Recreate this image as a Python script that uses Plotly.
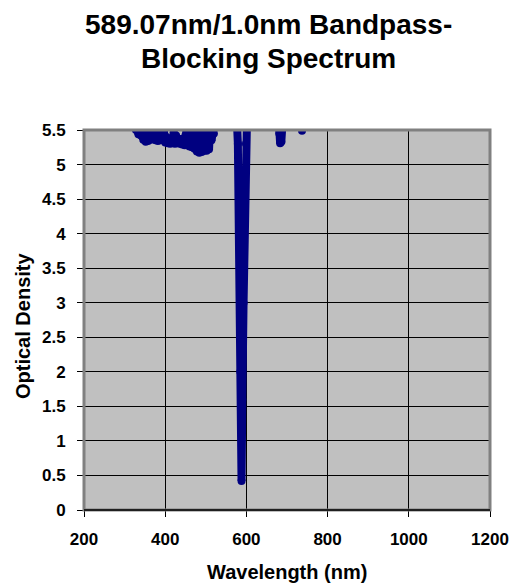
import plotly.graph_objects as go

# Wavelength (nm) and optical density
wavelength = [300, 322,
              325, 328, 331, 334, 337, 340, 343, 346, 349, 352, 355, 358, 361, 364, 367, 370,
              373, 376, 379, 382, 385, 388, 391, 394, 397, 400, 403, 406, 409, 412, 415, 418,
              421, 424, 427, 430, 433, 436, 439, 442, 445, 448, 451, 454, 457, 460, 463, 466,
              469, 472, 475, 478, 481, 484, 487, 490, 493, 496, 499, 502, 505, 508, 511, 514,
              517, 520, 523, 526, 530,
              550, 570, 576, 579, 582, 585, 588, 590, 593, 596, 599, 602, 610,
              650, 678, 681, 683, 686, 689, 692, 700,
              730, 734, 737, 740, 745,
              800, 900, 1000, 1100, 1200]
optical_density = [6.0, 5.8,
                   5.62, 5.50, 5.58, 5.44, 5.60, 5.42, 5.55, 5.36, 5.58, 5.33, 5.52, 5.34, 5.60, 5.36, 5.55, 5.37,
                   5.58, 5.35, 5.56, 5.34, 5.52, 5.35, 5.57, 5.36, 5.48, 5.32, 5.40, 5.31, 5.36, 5.30, 5.38, 5.31,
                   5.47, 5.30, 5.42, 5.31, 5.36, 5.30, 5.37, 5.29, 5.38, 5.28, 5.45, 5.28, 5.56, 5.26, 5.58, 5.25,
                   5.60, 5.23, 5.55, 5.19, 5.58, 5.17, 5.52, 5.18, 5.60, 5.20, 5.55, 5.20, 5.58, 5.22, 5.60, 5.35,
                   5.62, 5.45, 5.65, 5.60, 5.70,
                   6.0, 6.0, 5.7, 5.3, 3.8, 2.0, 0.42, 1.6, 3.0, 4.3, 5.3, 5.8, 6.0,
                   6.0, 5.8, 5.45, 5.31, 5.33, 5.6, 5.9, 6.0,
                   5.9, 5.7, 5.49, 5.7, 5.9,
                   6.0, 6.0, 6.0, 6.0, 6.0]

x_ticks = [200, 400, 600, 800, 1000, 1200]
y_ticks = [0, 0.5, 1, 1.5, 2, 2.5, 3, 3.5, 4, 4.5, 5, 5.5]
y_tick_text = ["0", "0.5", "1", "1.5", "2", "2.5", "3", "3.5", "4", "4.5", "5", "5.5"]

FONT = "Liberation Sans, Arial, sans-serif"
NAVY = "#000080"

fig = go.Figure()
fig.add_trace(go.Scatter(
    x=wavelength, y=optical_density, mode="lines+markers",
    line=dict(color=NAVY, width=8),
    marker=dict(color=NAVY, size=8, line=dict(width=0)),
    cliponaxis=True,
    showlegend=False, hoverinfo="skip",
))

fig.update_layout(
    template="none",
    width=514, height=586,
    margin=dict(l=84, r=24, t=130, b=76, autoexpand=False),
    paper_bgcolor="white",
    plot_bgcolor="#C0C0C0",
    font=dict(family=FONT, color="black"),
    showlegend=False,
    xaxis=dict(
        range=[200, 1200], tickvals=x_ticks, ticktext=[str(v) for v in x_ticks],
        automargin=False,
        showgrid=True, gridcolor="black", gridwidth=1,
        zeroline=False, showline=True, linecolor="black", linewidth=1,
        ticks="outside", ticklen=6, tickcolor="black", tickwidth=1,
        tickfont=dict(family=FONT, size=17, weight="bold"),
        ticklabelstandoff=8,
    ),
    yaxis=dict(
        range=[0, 5.5], tickvals=y_ticks, ticktext=y_tick_text,
        automargin=False,
        showgrid=True, gridcolor="black", gridwidth=1,
        zeroline=False, showline=False,
        ticks="outside", ticklen=6, tickcolor="black", tickwidth=1,
        tickfont=dict(family=FONT, size=17, weight="bold"),
        ticklabelstandoff=8,
    ),
    shapes=[
        dict(type="rect", xref="paper", yref="paper", x0=0, x1=1, y0=0, y1=1,
             line=dict(color="#808080", width=3), layer="above"),
        dict(type="line", xref="paper", yref="paper", x0=0, x1=1, y0=0, y1=0,
             line=dict(color="black", width=1.5), layer="above"),
    ],
    annotations=[
        dict(text="589.07nm/1.0nm Bandpass-", xref="paper", yref="paper",
             x=(268 - 84) / 406, y=(510 - 24) / 380, xanchor="center", yanchor="middle",
             showarrow=False, font=dict(family=FONT, size=28, weight="bold")),
        dict(text="Blocking Spectrum", xref="paper", yref="paper",
             x=(268 - 84) / 406, y=(510 - 59) / 380, xanchor="center", yanchor="middle",
             showarrow=False, font=dict(family=FONT, size=28, weight="bold")),
        dict(text="Wavelength (nm)", xref="paper", yref="paper",
             x=0.5, y=(510 - 572) / 380, xanchor="center", yanchor="middle",
             showarrow=False, font=dict(family=FONT, size=20, weight="bold")),
        dict(text="Optical Density", xref="paper", yref="paper",
             x=(23 - 84) / 406, y=(510 - 326) / 380, xanchor="center", yanchor="middle",
             textangle=-90,
             showarrow=False, font=dict(family=FONT, size=20, weight="bold")),
    ],
)

fig.write_html("out.html", config={"displayModeBar": False},
               post_script="document.body.style.margin='0px';")
